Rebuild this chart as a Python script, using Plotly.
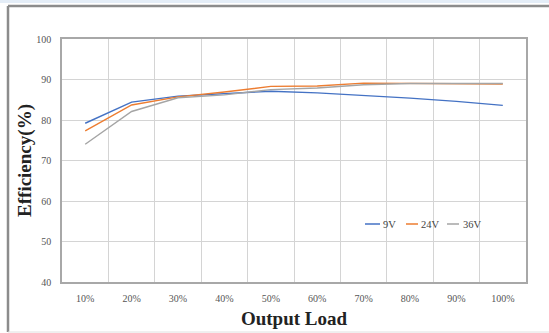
import plotly.graph_objects as go

loads = ["10%", "20%", "30%", "40%", "50%", "60%", "70%", "80%", "90%", "100%"]
eff_9v = [79.2, 84.4, 85.9, 86.5, 87.1, 86.7, 86.1, 85.4, 84.6, 83.6]
eff_24v = [77.3, 83.7, 85.7, 86.9, 88.3, 88.4, 89.1, 89.0, 89.0, 88.9]
eff_36v = [74.0, 82.1, 85.5, 86.2, 87.5, 87.9, 88.7, 89.0, 89.0, 89.0]

series = [("9V", eff_9v, "#4472C4"), ("24V", eff_24v, "#ED7D31"), ("36V", eff_36v, "#A5A5A5")]

W, H = 549, 333
ML, MR, MT, MB = 62, 23, 39, 51
PW, PH = W - ML - MR, H - MT - MB


def px(x):
    return (x - ML) / PW


def py(y):
    return (H - MB - y) / PH


serif = "Liberation Serif, Times New Roman, serif"

fig = go.Figure()
for name, vals, col in series:
    fig.add_trace(go.Scatter(x=loads, y=vals, mode="lines", name=name,
                             line=dict(color=col, width=1.4), showlegend=False))

shapes = [
    dict(type="rect", xref="paper", yref="paper", x0=px(0), x1=px(W),
         y0=py(3), y1=py(0), fillcolor="#e4edf7", line_width=0, layer="below"),
    dict(type="line", xref="paper", yref="paper", x0=px(8), x1=px(W),
         y0=py(6), y1=py(6), line=dict(color="#8c8c8c", width=2.5)),
    dict(type="line", xref="paper", yref="paper", x0=px(8), x1=px(8),
         y0=py(332), y1=py(6), line=dict(color="#8c8c8c", width=2.5)),
    dict(type="line", xref="paper", yref="paper", x0=px(8), x1=px(W),
         y0=py(332), y1=py(332), line=dict(color="#e0e0e0", width=1)),
]
annotations = []
leg_x = [(365, 380, 381), (406, 418, 419), (447, 459, 461)]
leg_y = 224
for (name, _, col), (l0, l1, tx) in zip(series, leg_x):
    shapes.append(dict(type="line", xref="paper", yref="paper", x0=px(l0), x1=px(l1),
                       y0=py(leg_y), y1=py(leg_y), line=dict(color=col, width=1.5)))
    annotations.append(dict(xref="paper", yref="paper", x=px(tx), y=py(leg_y), text=name,
                            showarrow=False, xanchor="left", yanchor="middle",
                            font=dict(family=serif, size=10.5, color="#444444")))

fig.update_layout(
    width=W, height=H,
    margin=dict(l=ML, r=MR, t=MT, b=MB),
    paper_bgcolor="white", plot_bgcolor="white",
    font=dict(family=serif, size=10, color="#555555"),
    xaxis=dict(type="category", range=[-0.5, 9.5], tickson="boundaries", showgrid=True,
               gridcolor="#d4d4d4", gridwidth=1, showline=True, linecolor="#a8a8a8",
               linewidth=1.5, mirror=True, ticks="", ticklabelstandoff=6, automargin=False,
               tickfont=dict(size=10, color="#555555"),
               title=dict(text="<b>Output Load</b>", font=dict(size=19, color="#222222", family=serif),
                          standoff=9)),
    yaxis=dict(range=[40, 100], dtick=10, showgrid=True, gridcolor="#d4d4d4", gridwidth=1,
               showline=True, linecolor="#a8a8a8", linewidth=1.5, mirror=True, automargin=False,
               ticks="", zeroline=False, ticklabelstandoff=7,
               tickfont=dict(size=10, color="#555555"),
               title=dict(text="<b>Efficiency(%)</b>", font=dict(size=19, color="#222222", family=serif),
                          standoff=0)),
    shapes=shapes,
    annotations=annotations,
)

fig.write_html("out.html")
